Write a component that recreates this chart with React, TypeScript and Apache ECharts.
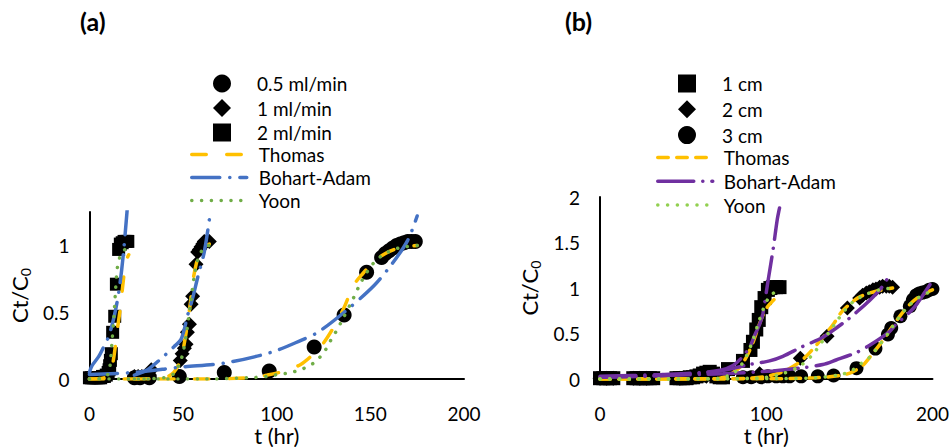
import React, { useEffect, useRef } from "react";
import * as echarts from "echarts";

const FONT = 'Lato, "Open Sans", "DejaVu Sans", sans-serif';
const INK = "#000";

// ---------- Panel (a): effect of flow rate ----------
const flow05Time = [24, 27, 32, 48, 72, 96, 120, 136, 148, 156, 158, 160, 162, 164, 166, 168, 170, 172, 174];
const flow05Ratio = [0.01, 0.01, 0.01, 0.02, 0.05, 0.06, 0.24, 0.48, 0.8, 0.91, 0.94, 0.96, 0.98, 1.0, 1.01, 1.02, 1.03, 1.03, 1.03];

const flow1Time = [24, 26, 28, 32, 33, 48.5, 49.5, 50.7, 51.6, 52.3, 53.4, 54.3, 55.1, 56.9, 57.8, 58.7, 59.6, 60.5, 61.3, 62.5, 64];
const flow1Ratio = [0.02, 0.02, 0.02, 0.03, 0.07, 0.14, 0.19, 0.23, 0.26, 0.35, 0.41, 0.56, 0.62, 0.86, 0.95, 0.97, 0.99, 1.01, 1.03, 1.03, 1.03];

const flow2Time = [0, 1, 2, 3, 4, 5, 6, 7, 8, 9, 10, 10.5, 10.8, 11.2, 11.7, 12.4, 13.5, 14.4, 15.6, 16.5, 17.5, 18.5, 19.5, 20.5];
const flow2Ratio = [0.01, 0.01, 0.01, 0.01, 0.01, 0.01, 0.01, 0.02, 0.02, 0.03, 0.05, 0.07, 0.1, 0.14, 0.19, 0.35, 0.47, 0.71, 0.97, 1.01, 1.02, 1.03, 1.03, 1.03];

const thomasFlow05: [number, number][] = [[0, 0], [60, 0], [85, 0.01], [95, 0.03], [104, 0.06], [112.8, 0.11], [119, 0.18], [125, 0.27], [130.5, 0.39], [135.8, 0.53], [141, 0.7], [146, 0.79], [152, 0.88], [158, 0.94], [165, 0.98], [175, 1.0]];
const thomasFlow1: [number, number][] = [[24, 0], [40, 0.01], [45, 0.05], [48, 0.12], [50, 0.22], [52, 0.38], [54, 0.58], [55.1, 0.72], [57, 0.86], [59, 0.95], [61, 0.99], [64, 1.01]];
const thomasFlow2: [number, number][] = [[0, 0], [8, 0.01], [11, 0.05], [12.5, 0.12], [13.8, 0.24], [15, 0.38], [16.5, 0.53], [17.8, 0.7], [19.1, 0.85], [20, 0.9], [21, 0.93]];

const bohartFlow05: [number, number][] = [[0, 0.035], [24, 0.05], [49, 0.09], [72, 0.12], [97, 0.2], [113, 0.29], [122, 0.35], [136, 0.5], [152, 0.7], [162, 0.87], [170, 1.04], [175, 1.22]];
const bohartFlow1: [number, number][] = [[24, 0.03], [31, 0.07], [38, 0.15], [45, 0.24], [49, 0.3], [52.5, 0.48], [55, 0.6], [57.8, 0.76], [61.3, 0.95], [64.5, 1.24]];
const bohartFlow2: [number, number][] = [[0, 0.05], [1.4, 0.1], [5, 0.17], [7.6, 0.24], [10, 0.31], [12, 0.4], [14, 0.52], [16, 0.68], [18, 0.92], [20, 1.24], [20.5, 1.33]];

const yoonFlow05: [number, number][] = [[0, 0], [60, 0], [85, 0.01], [95, 0.02], [100.4, 0.034], [106.5, 0.046], [111.9, 0.066], [116.7, 0.095], [120.7, 0.13], [124.3, 0.185], [127, 0.24], [129.6, 0.31], [132.3, 0.37], [134.9, 0.44], [141.1, 0.61], [145.6, 0.74], [151.8, 0.87], [158, 0.94], [165, 0.98], [175, 1.0]];
const yoonFlow1: [number, number][] = [[24, 0], [40, 0.01], [45, 0.04], [48, 0.11], [50, 0.2], [52, 0.36], [54, 0.57], [56, 0.77], [58, 0.9], [60, 0.96], [62, 0.99], [64, 1.0]];
const yoonFlow2: [number, number][] = [[0, 0], [8, 0.01], [10, 0.04], [11, 0.1], [12, 0.27], [13, 0.45], [13.8, 0.63], [14.7, 0.81], [15.6, 0.88], [17, 0.94], [19, 0.97], [21, 0.99]];

// ---------- Panel (b): effect of bed depth ----------
const depth1Time = [0, 2, 4, 6, 8, 20, 22, 24, 26, 28, 30, 32, 46, 48, 50, 52, 54, 56, 58, 60, 62, 64, 66, 68, 70, 72, 74, 77, 86, 90.5, 92, 94, 95.5, 97, 99, 101, 102.5, 104, 106, 108];
const depth1Ratio = [0.01, 0.01, 0.01, 0.01, 0.01, 0.01, 0.01, 0.01, 0.01, 0.01, 0.01, 0.01, 0.01, 0.01, 0.01, 0.01, 0.02, 0.02, 0.03, 0.04, 0.06, 0.07, 0.08, 0.06, 0.03, 0.02, 0.02, 0.11, 0.2, 0.32, 0.41, 0.545, 0.65, 0.79, 0.89, 0.98, 1.0, 1.01, 1.01, 1.01];

const depth2Time = [0, 4, 8, 20, 24, 28, 48, 56, 64, 72, 96, 120.5, 136.6, 148.8, 156.2, 158, 160.2, 162, 164.2, 166, 168.2, 170, 172.2, 174, 176];
const depth2Ratio = [0.01, 0.01, 0.01, 0.01, 0.01, 0.01, 0.01, 0.02, 0.03, 0.03, 0.06, 0.23, 0.47, 0.78, 0.89, 0.92, 0.945, 0.96, 0.98, 0.99, 1.01, 1.02, 1.02, 1.02, 1.01];

const depth3Time = [86, 91, 97, 101, 106, 110, 114, 121, 131, 140.5, 154.3, 165.7, 173.2, 175.2, 180.7, 186.4, 188.2, 190.2, 192, 194, 196, 198, 200];
const depth3Ratio = [0.02, 0.02, 0.02, 0.03, 0.03, 0.03, 0.03, 0.03, 0.03, 0.04, 0.12, 0.335, 0.49, 0.56, 0.69, 0.8, 0.87, 0.92, 0.94, 0.95, 0.96, 0.98, 0.99];

const thomasDepth1: [number, number][] = [[0, 0], [70, 0.005], [76, 0.03], [80, 0.07], [84, 0.13], [88, 0.24], [92, 0.4], [95, 0.56], [98, 0.7], [101, 0.8], [104, 0.86], [108, 0.93]];
const thomasDepth2: [number, number][] = [[0, 0], [80, 0.005], [90, 0.01], [100, 0.03], [110, 0.08], [118, 0.16], [124, 0.25], [130, 0.37], [136, 0.5], [141, 0.62], [145, 0.73], [150, 0.82], [156, 0.9], [165, 0.96], [176, 1.0]];
const thomasDepth3: [number, number][] = [[0, 0], [110, 0.005], [130, 0.015], [145, 0.04], [152, 0.08], [158, 0.15], [164, 0.28], [170, 0.42], [176, 0.58], [182, 0.73], [188, 0.85], [194, 0.93], [200, 0.98]];

const bohartDepth1: [number, number][] = [[0, 0.03], [20, 0.04], [37, 0.05], [60, 0.07], [73, 0.1], [80, 0.15], [85, 0.23], [90, 0.35], [93, 0.48], [96, 0.6], [98, 0.72], [101, 1.07], [104, 1.41], [106.7, 1.76], [108, 1.88]];
const bohartDepth2: [number, number][] = [[0, 0.02], [40, 0.04], [72, 0.09], [90, 0.16], [102, 0.2], [110, 0.25], [121, 0.35], [134, 0.46], [148, 0.64], [154, 0.73], [162, 0.86], [170, 1.02], [175, 1.17]];
const bohartDepth3: [number, number][] = [[0, 0.02], [74, 0.06], [104, 0.09], [120, 0.12], [134, 0.16], [142, 0.21], [154, 0.29], [162, 0.37], [174, 0.52], [178, 0.6], [186, 0.73], [190, 0.81], [200, 1.08]];

const yoonDepth1: [number, number][] = [[0, 0], [70, 0.005], [76, 0.03], [80, 0.06], [84, 0.13], [88, 0.25], [92, 0.43], [95, 0.6], [98, 0.76], [101, 0.88], [104, 0.94], [108, 0.98]];
const yoonDepth2: [number, number][] = [[0, 0], [80, 0.005], [90, 0.01], [100, 0.02], [110, 0.06], [120, 0.14], [128, 0.27], [132, 0.37], [138, 0.52], [143, 0.65], [148, 0.77], [153, 0.86], [160, 0.93], [168, 0.98], [176, 1.0]];
const yoonDepth3: [number, number][] = [[0, 0], [110, 0.005], [130, 0.015], [145, 0.05], [152, 0.1], [156, 0.16], [160, 0.2], [164, 0.28], [168, 0.37], [174, 0.52], [180, 0.68], [186, 0.81], [192, 0.9], [200, 0.97]];

const xTicksA = { min: 0, max: 200, interval: 50 };
const yTicksA = { min: 0, max: 1.25, interval: 0.5 };
const xTicksB = { min: 0, max: 200, interval: 100 };
const yTicksB = { min: 0, max: 2, interval: 0.5 };

const modelNames = ["Thomas", "Bohart-Adam", "Yoon"];

// ---------- option builders ----------
const zip = (t: number[], y: number[]) => t.map((v, i) => [v, y[i]]);

const markers = (name: string, symbol: string, size: number, t: number[], y: number[]) => ({
  type: "scatter",
  name,
  symbol,
  symbolSize: size,
  data: zip(t, y),
  itemStyle: { color: "#000", opacity: 1 },
  silent: true,
});

const model = (name: string, data: [number, number][], color: string, dash: number[]) => ({
  type: "line",
  name,
  data,
  symbol: "none",
  smooth: 0.3,
  lineStyle: { color, width: 3.5, type: dash, cap: "round" },
  itemStyle: { color },
  silent: true,
});

const axisText = { fontFamily: FONT, fontSize: 19, color: INK };
const nameText = { fontFamily: FONT, fontSize: 22, color: INK };
const legendText = (pad: number) => ({ fontFamily: FONT, fontSize: 19, lineHeight: 18, color: INK, padding: [0, 0, 0, pad] });

const panel = (cfg: {
  title: string;
  titleLeft: number;
  grid: { left: number; top: number; width: number; height: number };
  xTicks: { min: number; max: number; interval: number };
  yTicks: { min: number; max: number; interval: number };
  xNameGap: number;
  yNameGap: number;
  lineLegendLeft: number;
  lineLegendTop: number;
  markerLegendLeft: number;
  textLeft: number;
  rowGap: number;
  lineRowGap: number;
  markerNames: string[];
  series: any[];
}) => ({
  animation: false,
  title: {
    text: cfg.title,
    left: cfg.titleLeft,
    top: 8,
    padding: 0,
    textStyle: { fontFamily: FONT, fontSize: 25, fontWeight: "bold", color: INK },
  },
  legend: [
    {
      // marker entries: square icon box so the symbols keep their shape
      orient: "vertical",
      left: cfg.markerLegendLeft,
      top: 74,
      padding: 0,
      itemWidth: 18,
      itemHeight: 18,
      itemGap: cfg.rowGap,
      selectedMode: false,
      textStyle: legendText(cfg.textLeft - cfg.markerLegendLeft - 18 - 5),
      data: cfg.markerNames,
    },
    {
      // model curves: line samples
      orient: "vertical",
      left: cfg.lineLegendLeft,
      top: cfg.lineLegendTop,
      padding: 0,
      itemWidth: 55,
      itemHeight: 18,
      itemGap: cfg.lineRowGap,
      selectedMode: false,
      textStyle: legendText(cfg.textLeft - cfg.lineLegendLeft - 55 - 5),
      data: modelNames.map((name) => ({ name, itemStyle: { opacity: 0 }, lineStyle: { width: 3.5 } })),
    },
  ],
  grid: { ...cfg.grid, containLabel: false },
  xAxis: {
    type: "value",
    ...cfg.xTicks,
    axisLine: { lineStyle: { color: INK, width: 2 } },
    axisTick: { show: false },
    splitLine: { show: false },
    axisLabel: { ...axisText, margin: 25 },
    name: "t (hr)",
    nameLocation: "middle",
    nameGap: cfg.xNameGap,
    nameTextStyle: nameText,
  },
  yAxis: {
    type: "value",
    ...cfg.yTicks,
    axisLine: { show: true, lineStyle: { color: INK, width: 2 } },
    axisTick: { show: false },
    splitLine: { show: false },
    axisLabel: { ...axisText, margin: 20, showMaxLabel: cfg.yTicks.max === 2 },
    name: "{a|Ct/C}{b|0}",
    nameLocation: "middle",
    nameRotate: 90,
    nameGap: cfg.yNameGap,
    nameTextStyle: {
      ...nameText,
      rich: {
        a: { fontFamily: FONT, fontSize: 22, color: INK, lineHeight: 26 },
        b: { fontFamily: FONT, fontSize: 14, color: INK, lineHeight: 14, verticalAlign: "bottom" },
      },
    },
  },
  series: cfg.series,
});

const YELLOW = "#FFC000";
const BLUE = "#4472C4";
const GREEN_A = "#70AD47";
const PURPLE = "#7030A0";
const GREEN_B = "#92D050";

const thomasDashA = [14.5, 20.5];
const bohartDashA = [28, 10, 0.1, 10];
const dotDash = [0.1, 9.7];
const thomasDashB = [10.5, 8.5];
const bohartDashB = [36, 9, 0.1, 9];

const optionA = panel({
  title: "(a)",
  titleLeft: 80,
  grid: { left: 88, top: 212, width: 376, height: 171 },
  xTicks: xTicksA,
  yTicks: yTicksA,
  xNameGap: 41,
  yNameGap: 55,
  lineLegendLeft: 190,
  lineLegendTop: 145,
  markerLegendLeft: 213,
  textLeft: 257,
  rowGap: 5.5,
  lineRowGap: 4,
  markerNames: ["0.5 ml/min", "1 ml/min", "2 ml/min"],
  series: [
    markers("0.5 ml/min", "circle", 15, flow05Time, flow05Ratio),
    markers("1 ml/min", "diamond", 15, flow1Time, flow1Ratio),
    markers("2 ml/min", "rect", 13, flow2Time, flow2Ratio),
    model("Thomas", thomasFlow05, YELLOW, thomasDashA),
    model("Thomas", thomasFlow1, YELLOW, thomasDashA),
    model("Thomas", thomasFlow2, YELLOW, thomasDashA),
    model("Bohart-Adam", bohartFlow05, BLUE, bohartDashA),
    model("Bohart-Adam", bohartFlow1, BLUE, bohartDashA),
    model("Bohart-Adam", bohartFlow2, BLUE, bohartDashA),
    model("Yoon", yoonFlow05, GREEN_A, dotDash),
    model("Yoon", yoonFlow1, GREEN_A, dotDash),
    model("Yoon", yoonFlow2, GREEN_A, dotDash),
  ],
});

const optionB = panel({
  title: "(b)",
  titleLeft: 89,
  grid: { left: 124, top: 197, width: 333, height: 192 },
  xTicks: xTicksB,
  yTicks: yTicksB,
  xNameGap: 37,
  yNameGap: 57,
  lineLegendLeft: 180,
  lineLegendTop: 148,
  markerLegendLeft: 202,
  textLeft: 246,
  rowGap: 6.8,
  lineRowGap: 4.8,
  markerNames: ["1 cm", "2 cm", "3 cm"],
  series: [
    markers("1 cm", "rect", 14, depth1Time, depth1Ratio),
    markers("2 cm", "diamond", 15, depth2Time, depth2Ratio),
    markers("3 cm", "circle", 14, depth3Time, depth3Ratio),
    model("Thomas", thomasDepth1, YELLOW, thomasDashB),
    model("Thomas", thomasDepth2, YELLOW, thomasDashB),
    model("Thomas", thomasDepth3, YELLOW, thomasDashB),
    model("Bohart-Adam", bohartDepth1, PURPLE, bohartDashB),
    model("Bohart-Adam", bohartDepth2, PURPLE, bohartDashB),
    model("Bohart-Adam", bohartDepth3, PURPLE, bohartDashB),
    model("Yoon", yoonDepth1, GREEN_B, dotDash),
    model("Yoon", yoonDepth2, GREEN_B, dotDash),
    model("Yoon", yoonDepth3, GREEN_B, dotDash),
  ],
});

function Panel({ option, left, width }: { option: any; left: number; width: number }) {
  const ref = useRef<HTMLDivElement>(null);
  useEffect(() => {
    if (!ref.current) return;
    const chart = echarts.init(ref.current, undefined, { renderer: "svg" });
    chart.setOption(option);
    return () => chart.dispose();
  }, [option]);
  return <div ref={ref} style={{ position: "absolute", left, top: 0, width, height: 447 }} />;
}

export default function App() {
  return (
    <div style={{ position: "fixed", left: 0, top: 0, width: 952, height: 447, background: "#fff", overflow: "hidden" }}>
      <Panel option={optionA} left={0} width={500} />
      <Panel option={optionB} left={476} width={476} />
    </div>
  );
}
